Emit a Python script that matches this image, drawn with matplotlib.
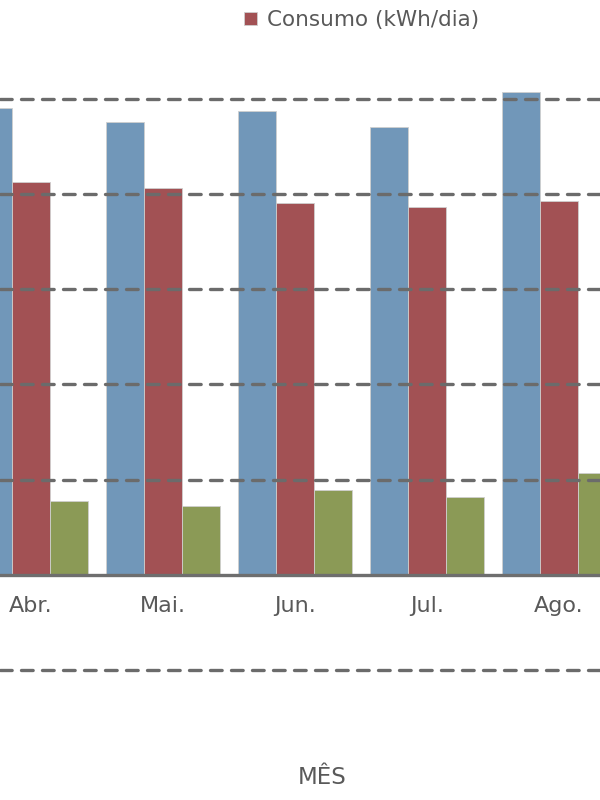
import matplotlib
matplotlib.use('Agg')
import matplotlib.pyplot as plt
import numpy as np

# dados (recorte Abr.-Ago.)
meses = ['Abr.', 'Mai.', 'Jun.', 'Jul.', 'Ago.']
serie_azul = [49.0, 47.5, 48.7, 47.0, 50.7]
consumo = [41.2, 40.6, 39.0, 38.6, 39.3]
serie_verde = [7.8, 7.2, 8.9, 8.2, 10.7]
grade = [-10, 10, 20, 30, 40, 50]

cor_azul = '#7197B9'
cor_verm = '#A25154'
cor_verde = '#8B9A56'
cor_texto = '#595959'
cor_grade = '#6b6b6b'

plt.rcParams['font.family'] = ['DejaVu Sans']

fig = plt.figure(figsize=(6, 8), dpi=100)
ax = fig.add_axes([0, 0, 1, 1])

x = np.arange(len(meses))
w = 0.29
borda = dict(edgecolor='#cfcfcf', linewidth=0.6)
ax.bar(x - w, serie_azul, w, color=cor_azul, **borda)
b_cons = ax.bar(x, consumo, w, color=cor_verm, label='Consumo (kWh/dia)', **borda)
ax.bar(x + w, serie_verde, w, color=cor_verde, **borda)

# grade tracejada por cima das barras
for v in grade:
    ax.axhline(v, color=cor_grade, lw=2.4, linestyle=(0, (3.5, 2.8)),
               dash_capstyle='round', zorder=3)
ax.axhline(0, color='#6e6e6e', lw=2.4, zorder=4)

ax.set_xlim(-31 / 132, 569 / 132)
ax.set_ylim(-23.6, 60.34)
for s in ax.spines.values():
    s.set_visible(False)
ax.spines['bottom'].set_position(('data', 0))
ax.set_yticks([])
ax.set_xticks(x)
ax.set_xticklabels(meses, fontsize=16, color=cor_texto)
ax.tick_params(axis='x', length=0, pad=15)

fig.text(322 / 600, 1 - 778 / 800, 'MÊS', ha='center', va='center',
         fontsize=16.5, color=cor_texto)

fig.legend(handles=[b_cons], loc='center left', bbox_to_anchor=(244 / 600, 1 - 20 / 800),
           frameon=False, fontsize=15.5, handlelength=0.6, handleheight=0.6,
           handletextpad=0.45, borderpad=0, borderaxespad=0, labelcolor=cor_texto)

fig.savefig('out.png', dpi=100)
